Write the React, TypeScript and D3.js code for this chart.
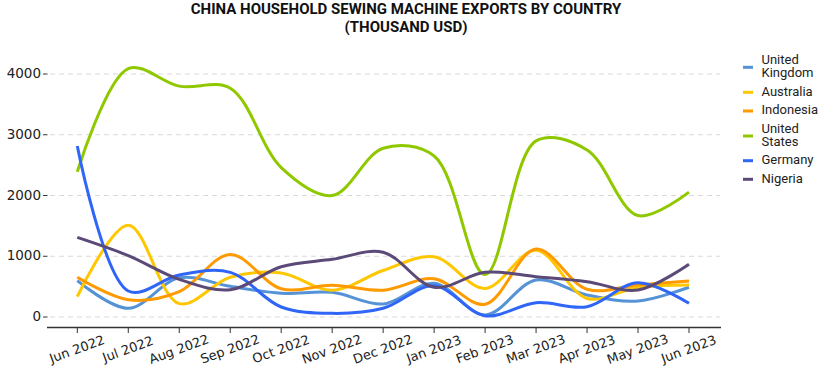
import React from "react"
import * as d3 from "d3"

const months = [
  "Jun 2022", "Jul 2022", "Aug 2022", "Sep 2022", "Oct 2022", "Nov 2022", "Dec 2022",
  "Jan 2023", "Feb 2023", "Mar 2023", "Apr 2023", "May 2023", "Jun 2023",
]

const unitedKingdom = [598, 143, 645, 505, 390, 406, 214, 555, 33, 609, 362, 263, 490]
const australia = [335, 1510, 220, 655, 725, 440, 765, 990, 470, 1100, 305, 490, 527]
const indonesia = [655, 285, 417, 1030, 466, 522, 440, 630, 209, 1120, 456, 527, 593]
const unitedStates = [2390, 4090, 3800, 3765, 2460, 2000, 2777, 2650, 700, 2900, 2750, 1670, 2055]
const germany = [2815, 428, 691, 735, 165, 60, 143, 515, 22, 235, 170, 565, 225]
const nigeria = [1310, 1010, 620, 448, 828, 950, 1065, 489, 735, 664, 581, 444, 868]

const yTicks = [0, 1000, 2000, 3000, 4000]

const series = [
  { name: ["United", "Kingdom"], values: unitedKingdom, color: "#5592d6" },
  { name: ["Australia"], values: australia, color: "#ffc700" },
  { name: ["Indonesia"], values: indonesia, color: "#ff9a00" },
  { name: ["United", "States"], values: unitedStates, color: "#90c800" },
  { name: ["Germany"], values: germany, color: "#2f66f8" },
  { name: ["Nigeria"], values: nigeria, color: "#5b4a78" },
]

const tickFont = "'DejaVu Sans', sans-serif"

export default function App() {
  const width = 824
  const height = 371

  const x = d3.scalePoint<string>().domain(months).range([77.3, 689])
  const y = d3.scaleLinear().domain([0, 4000]).range([317, 74])

  const line = d3
    .line<number>()
    .x((d, i) => x(months[i]) as number)
    .y(d => y(d))
    .curve(d3.curveCatmullRom.alpha(0.5))

  const legendY = [67.3, 92.3, 111, 136, 160.7, 179.3]

  return (
    <svg
      width={width}
      height={height}
      style={{ position: "absolute", left: 0, top: 0, background: "#fff" }}
    >
      <text
        x={406}
        y={10.5}
        textAnchor="middle"
        dominantBaseline="middle"
        fontFamily="Roboto, sans-serif"
        fontWeight="bold"
        fontSize={15}
        fill="#111"
      >
        CHINA HOUSEHOLD SEWING MACHINE EXPORTS BY COUNTRY
      </text>
      <text
        x={406}
        y={28}
        textAnchor="middle"
        dominantBaseline="middle"
        fontFamily="Roboto, sans-serif"
        fontWeight="bold"
        fontSize={15}
        fill="#111"
      >
        (THOUSAND USD)
      </text>

      {/* y grid + ticks */}
      {yTicks.map(t => (
        <g key={t}>
          <line x1={50} x2={720} y1={y(t)} y2={y(t)} stroke="#d9d9d9" strokeDasharray="5,4" />
          <line x1={43} x2={47.5} y1={y(t)} y2={y(t)} stroke="#333" />
          <text
            x={41}
            y={y(t)}
            textAnchor="end"
            dominantBaseline="middle"
            fontFamily={tickFont}
            fontSize={13.5}
            fill="#222"
          >
            {t}
          </text>
        </g>
      ))}

      {/* x axis */}
      <line x1={47} x2={721} y1={327.5} y2={327.5} stroke="#333" strokeWidth={1.5} />
      {months.map(m => {
        const px = x(m) as number
        return (
          <g key={m}>
            <line x1={px} x2={px} y1={327.5} y2={333} stroke="#333" />
            <text
              x={px}
              y={350}
              textAnchor="middle"
              dominantBaseline="middle"
              transform={`rotate(-20, ${px}, 350)`}
              fontFamily={tickFont}
              fontSize={13}
              fill="#222"
            >
              {m}
            </text>
          </g>
        )
      })}

      {/* lines */}
      {series.map(s => (
        <path
          key={s.name.join(" ")}
          d={line(s.values) as string}
          fill="none"
          stroke={s.color}
          strokeWidth={3}
          strokeLinejoin="round"
        />
      ))}

      {/* legend */}
      {series.map((s, i) => {
        const cy = legendY[i]
        const off = s.name.length === 2 ? -6.7 : 0
        return (
          <g key={"lg" + i}>
            <line x1={743} x2={753} y1={cy} y2={cy} stroke={s.color} strokeWidth={3} />
            {s.name.map((n, j) => (
              <text
                key={j}
                x={761.5}
                y={cy + off + j * 13.4}
                dominantBaseline="middle"
                fontFamily="Roboto, sans-serif"
                fontSize={13}
                fill="#222"
              >
                {n}
              </text>
            ))}
          </g>
        )
      })}
    </svg>
  )
}
